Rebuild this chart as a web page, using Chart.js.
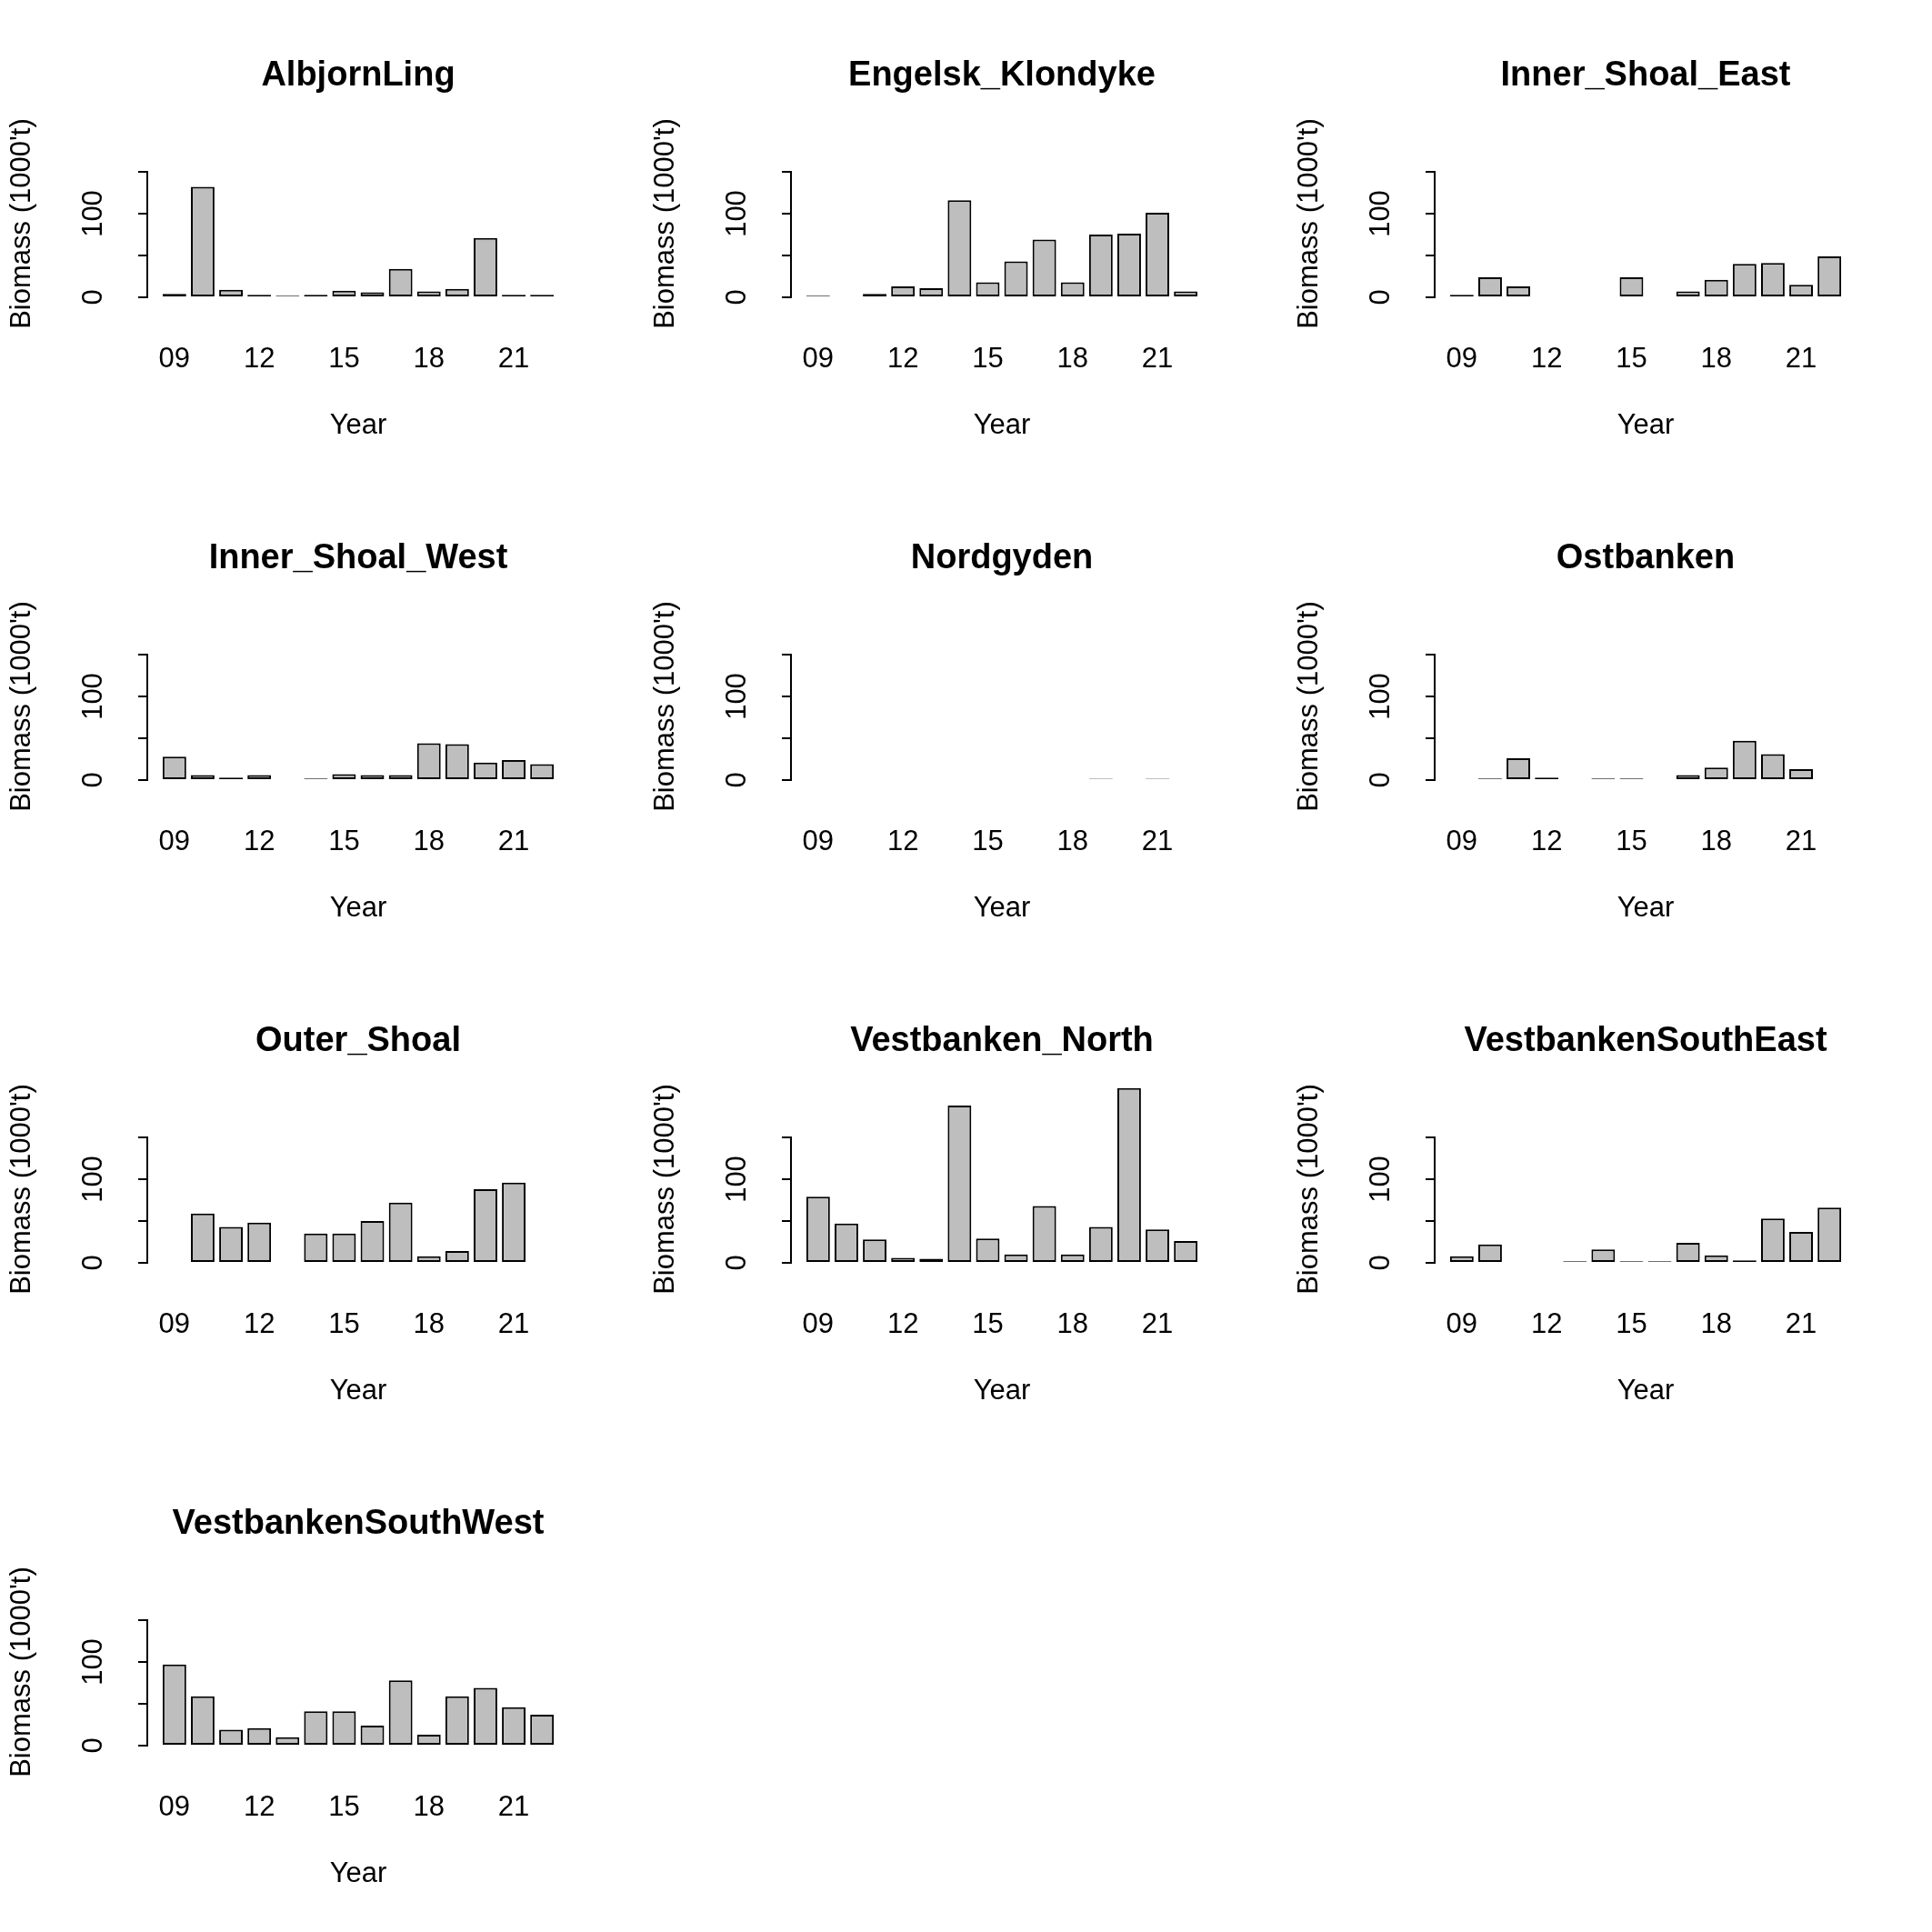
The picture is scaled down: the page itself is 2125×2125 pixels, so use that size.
<!DOCTYPE html>
<html>
<head>
<meta charset="utf-8">
<script src="https://cdn.jsdelivr.net/npm/chart.js@4/dist/chart.umd.min.js"></script>
<style>
  body { margin: 0; background: #fff; }
  #grid { position: relative; width: 2125px; height: 2125px; }
  .cell { position: absolute; width: 708px; height: 531px; }
</style>
</head>
<body>
<div id="grid"></div>
<script>
// 데이터
const years = [9, 10, 11, 12, 13, 14, 15, 16, 17, 18, 19, 20, 21, 22];
const tickYears = [9, 12, 15, 18, 21];
const yTickLabels = [0, 100];
const areas = ["AlbjornLing", "Engelsk_Klondyke", "Inner_Shoal_East", "Inner_Shoal_West", "Nordgyden",
  "Ostbanken", "Outer_Shoal", "Vestbanken_North", "VestbankenSouthEast", "VestbankenSouthWest"];

const albjornLing = [4, 132, 9, 3, 2, 3, 8, 6, 34, 7, 10, 71, 3, 3];
const engelskKlondyke = [2, 1, 4, 13, 11, 116, 18, 43, 69, 18, 75, 76, 101, 7];
const innerShoalEast = [3, 24, 13, 1, 0, 0, 24, 0, 7, 21, 40, 41, 15, 49];
const innerShoalWest = [28, 6, 3, 6, 1, 2, 7, 6, 6, 44, 43, 21, 24, 19];
const nordgyden = [0.5, 0.5, 0.5, 0.5, 0.5, 0.5, 0.5, 0.5, 0.5, 0.5, 1.5, 0.5, 1.5, 0.5];
const ostbanken = [0.5, 2, 26, 3, 0.5, 2, 2, 0.5, 6, 15, 47, 31, 13, 0.5];
const outerShoal = [1, 59, 43, 48, 0.5, 35, 35, 50, 72, 8, 14, 88, 96, 0.5];
const vestbankenNorth = [79, 47, 28, 6, 5, 188, 29, 10, 68, 10, 43, 209, 40, 26];
const vestbankenSouthEast = [8, 22, 0.5, 0.5, 2, 16, 2, 2, 24, 9, 3, 53, 37, 66];
const vestbankenSouthWest = [97, 59, 19, 21, 10, 41, 41, 24, 78, 13, 59, 69, 46, 37];

const series = [albjornLing, engelskKlondyke, innerShoalEast, innerShoalWest, nordgyden,
  ostbanken, outerShoal, vestbankenNorth, vestbankenSouthEast, vestbankenSouthWest];

const FONT = "'Liberation Sans', Arial, sans-serif";

// 제목, 축 라벨 그리기
const textPlugin = {
  id: "rtext",
  afterDraw(chart) {
    const c = chart.ctx;
    const a = chart.chartArea;
    const ys = chart.scales.y;
    c.save();
    c.fillStyle = "#000";
    c.textAlign = "center";
    c.textBaseline = "middle";
    c.font = "bold 38px " + FONT;
    c.fillText(chart.options.plugins.rtext.title, (a.left + a.right) / 2, 84);
    c.font = "31px " + FONT;
    c.fillText("Year", (a.left + a.right) / 2, 468);
    yTickLabels.forEach((v) => {
      c.save();
      c.translate(103, ys.getPixelForValue(v));
      c.rotate(-Math.PI / 2);
      c.fillText(String(v), 0, 0);
      c.restore();
    });
    c.save();
    c.translate(24, 246);
    c.rotate(-Math.PI / 2);
    c.fillText("Biomass (1000't)", 0, 0);
    c.restore();
    c.restore();
  },
};

const grid = document.getElementById("grid");
areas.forEach((name, i) => {
  const div = document.createElement("div");
  div.className = "cell";
  div.style.left = (i % 3) * 708 + "px";
  div.style.top = Math.floor(i / 3) * 531 + "px";
  const canvas = document.createElement("canvas");
  div.appendChild(canvas);
  grid.appendChild(div);

  new Chart(canvas.getContext("2d"), {
    type: "bar",
    data: {
      datasets: [{
        data: years.map((yr, k) => ({ x: k + 1, y: series[i][k] })),
        backgroundColor: "#bebebe",
        borderColor: "#000",
        borderWidth: 2,
        borderSkipped: false,
        minBarLength: 1,
        categoryPercentage: 1,
        barPercentage: 1 / 1.2,
        clip: false,
      }],
    },
    options: {
      responsive: true,
      maintainAspectRatio: false,
      animation: false,
      layout: { padding: { top: 189, bottom: 94, left: 82, right: 82 } },
      plugins: { legend: { display: false }, tooltip: { enabled: false }, rtext: { title: name } },
      scales: {
        x: {
          type: "linear",
          offset: false,
          min: 0.04,
          max: 14.96,
          afterFit: (s) => { s.height = 110; },
          afterBuildTicks: (s) => { s.ticks = tickYears.map((y) => ({ value: y - 8 })); },
          ticks: {
            padding: 42,
            color: "#000",
            font: { family: FONT, size: 31 },
            maxRotation: 0,
            callback: (v) => String(v + 8).padStart(2, "0"),
          },
          grid: { display: false },
          border: { display: false },
        },
        y: {
          min: 0,
          max: 150,
          afterFit: (s) => { s.width = 80; },
          afterBuildTicks: (s) => { s.ticks = [0, 50, 100, 150].map((v) => ({ value: v })); },
          ticks: { display: false },
          grid: { drawOnChartArea: false, drawTicks: true, tickLength: 10, color: "#000", lineWidth: 2 },
          border: { display: true, color: "#000", width: 2 },
        },
      },
    },
    plugins: [textPlugin],
  });
});
</script>
</body>
</html>
